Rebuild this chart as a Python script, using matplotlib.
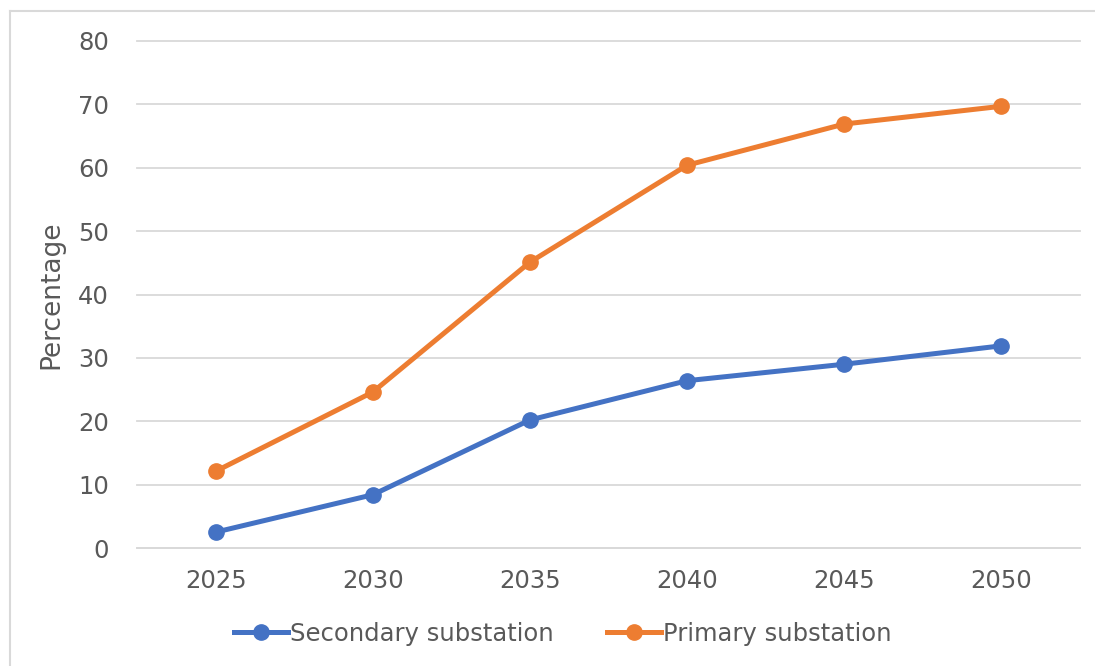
import numpy as np
import matplotlib
matplotlib.use("Agg")
import matplotlib.pyplot as plt
from matplotlib.lines import Line2D

years = ['2025', '2030', '2035', '2040', '2045', '2050']
secondary = [2.5, 8.4, 20.2, 26.4, 29.0, 31.9]
primary = [12.1, 24.6, 45.1, 60.4, 66.9, 69.7]

blue = '#4472C4'
orange = '#ED7D31'
txt = '#595959'
grid = '#D9D9D9'

plt.rcParams['font.family'] = ['DejaVu Sans']

fig = plt.figure(figsize=(10.95, 6.66), dpi=100)
ax = fig.add_axes([137/1095, 1 - 548/666, (1080 - 137)/1095, (548 - 41)/666])

# outer chart border: only left and top edges are inside the image
bx, by = 10/1095, 1 - 11/666
fig.add_artist(Line2D([bx, bx], [0, by], transform=fig.transFigure, color=grid, lw=1.5))
fig.add_artist(Line2D([bx, 1], [by, by], transform=fig.transFigure, color=grid, lw=1.5))

x = np.arange(len(years))
ax.plot(x, secondary, color=blue, lw=3.6, marker='o', ms=11, label='Secondary substation')
ax.plot(x, primary, color=orange, lw=3.6, marker='o', ms=11, label='Primary substation')

ax.set_xlim(-0.5, len(years) - 0.5)
ax.set_ylim(0, 80)
ax.set_yticks(np.arange(0, 81, 10))
ax.set_xticks(x)
ax.set_xticklabels(years)
ax.grid(axis='y', color=grid, lw=1.3)
for gl in ax.get_ygridlines():
    gl.set_clip_on(False)
ax.set_axisbelow(True)
for s in ['top', 'right', 'left']:
    ax.spines[s].set_visible(False)
ax.spines['bottom'].set_color(grid)
ax.spines['bottom'].set_linewidth(1.3)
ax.tick_params(length=0, labelsize=17.5, colors=txt, pad=15)
ax.tick_params(axis='y', pad=20)
ax.set_ylabel('Percentage', fontsize=19, color=txt, labelpad=10)

leg = fig.legend(loc='center', bbox_to_anchor=(563/1095, 1 - 634/666), ncol=2,
                 frameon=False, fontsize=17.5, handlelength=2.2, handletextpad=0.1,
                 columnspacing=2.2, labelcolor=txt)

fig.savefig('out.png', dpi=100)
